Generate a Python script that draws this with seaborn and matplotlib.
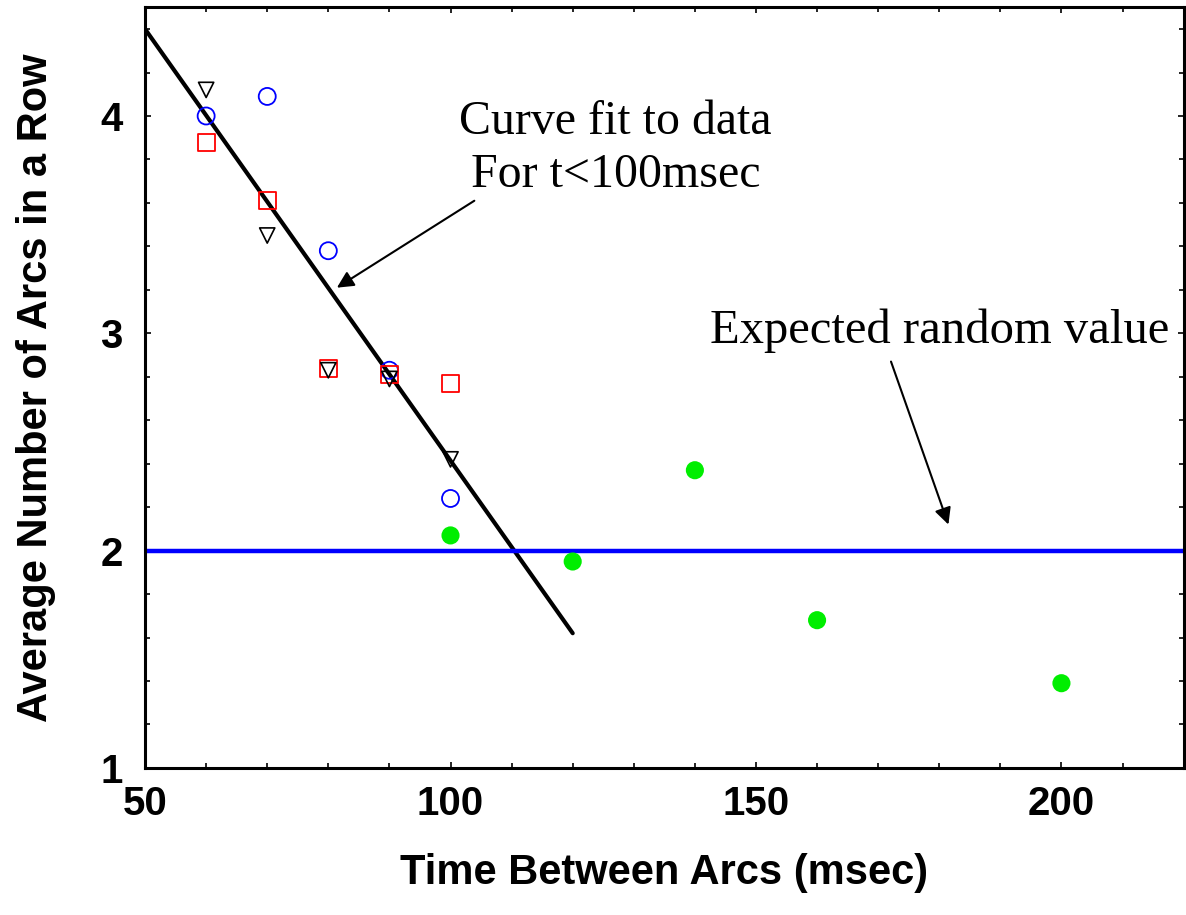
import numpy as np
import pandas as pd
import matplotlib
matplotlib.use('Agg')
import matplotlib.pyplot as plt
from matplotlib.ticker import MultipleLocator
import seaborn as sns

# ── Data ─────────────────────────────────────────────────────────────────────
t_fit_series   = [60, 70, 80, 90, 100]
circle_vals    = [4.00, 4.09, 3.38, 2.83, 2.24]
square_vals    = [3.88, 3.61, 2.84, 2.81, 2.77]
triangle_vals  = [4.12, 3.45, 2.83, 2.79, 2.42]

t_green        = [100, 120, 140, 160, 200]
green_vals     = [2.07, 1.95, 2.37, 1.68, 1.39]

fit_t          = [50, 120]
fit_vals       = [4.40, 1.62]

random_level   = 2.0

sns.set_theme(style='ticks')
plt.rcParams['font.family'] = ['Liberation Sans', 'DejaVu Sans']
plt.rcParams['text.color'] = 'black'
plt.rcParams['axes.labelcolor'] = 'black'
plt.rcParams['xtick.color'] = 'black'
plt.rcParams['ytick.color'] = 'black'

fig = plt.figure(figsize=(11.86, 9.15), dpi=100)
ax = fig.add_axes([0.1223, 0.1607, 0.8757, 0.8313])

# fit line and expected random value
sns.lineplot(x=fit_t, y=fit_vals, color='black', lw=3, ax=ax, zorder=2)
ax.axhline(random_level, color='#0000ff', lw=3.2, zorder=2)

# data series
sns.scatterplot(x=t_fit_series, y=circle_vals, marker='o', s=150,
                facecolors='none', edgecolor='#0000ff', linewidth=1.3, ax=ax, zorder=3)
sns.scatterplot(x=t_fit_series, y=square_vals, marker='s', s=150,
                facecolors='none', edgecolor='#ff0000', linewidth=1.3, ax=ax, zorder=3)
sns.scatterplot(x=t_fit_series, y=triangle_vals, marker='v', s=120,
                facecolors='none', edgecolor='black', linewidth=1.2, ax=ax, zorder=3)
sns.scatterplot(x=t_green, y=green_vals, marker='o', s=170,
                color='#00ee00', edgecolor='none', ax=ax, zorder=3)

ax.set_xlim(50, 220)
ax.set_ylim(1, 4.5)
ax.xaxis.set_major_locator(MultipleLocator(50))
ax.xaxis.set_minor_locator(MultipleLocator(10))
ax.yaxis.set_major_locator(MultipleLocator(1))
ax.yaxis.set_minor_locator(MultipleLocator(0.2))
ax.tick_params(which='both', direction='in', top=True, right=True,
               width=1.2, color='black')
ax.tick_params(which='major', length=4.5, labelsize=29)
ax.tick_params(axis='x', which='major', pad=12)
ax.tick_params(axis='y', which='major', pad=16)
ax.tick_params(which='minor', length=3.5)
for lab in ax.get_xticklabels() + ax.get_yticklabels():
    lab.set_fontweight('bold')
for sp in ax.spines.values():
    sp.set_linewidth(2.2)
    sp.set_color('black')

ax.set_xlabel('Time Between Arcs (msec)', fontsize=30, fontweight='bold', labelpad=22)
ax.set_ylabel('Average Number of Arcs in a Row', fontsize=30, fontweight='bold', labelpad=32)

serif = ['Liberation Serif', 'DejaVu Serif']
ax.text(127, 3.85, 'Curve fit to data\nFor t<100msec', ha='center', va='center',
        fontsize=34.5, family=serif, linespacing=1.25, color='black')
ax.annotate('', xy=(81.4, 3.21), xytext=(103.9, 3.61),
            arrowprops=dict(arrowstyle='-|>', color='black', lw=1.5,
                            mutation_scale=25, shrinkA=0, shrinkB=0))
ax.text(180, 3.01, 'Expected random value', ha='center', va='center',
        fontsize=35, family=serif, color='black')
ax.annotate('', xy=(181.5, 2.12), xytext=(172.1, 2.87),
            arrowprops=dict(arrowstyle='-|>', color='black', lw=1.5,
                            mutation_scale=25, shrinkA=0, shrinkB=0))

fig.savefig('out.png', dpi=100)
